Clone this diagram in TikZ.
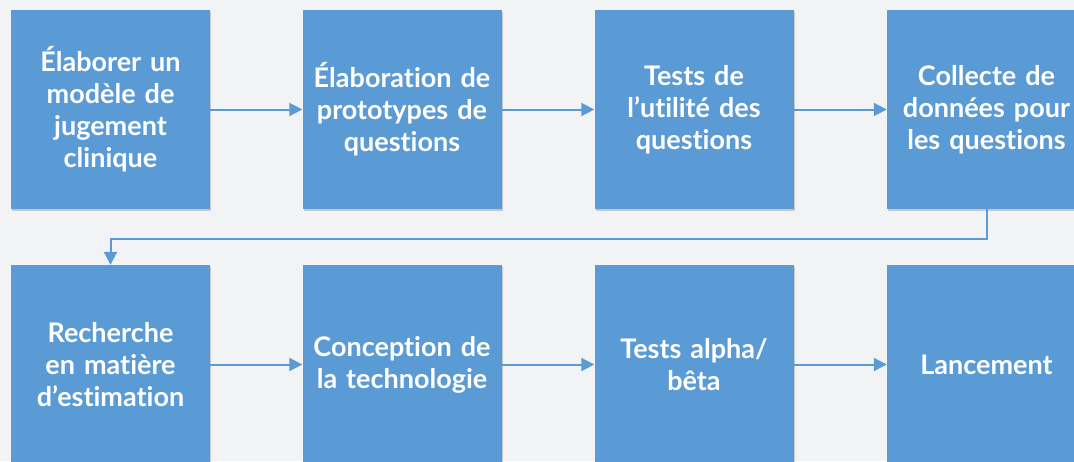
\documentclass[tikz,border=0pt]{standalone}
\usepackage{fontspec}
\setmainfont{Lato}[Ligatures=NoCommon]
\usetikzlibrary{arrows.meta,shadows}
\definecolor{boxblue}{HTML}{5B9BD5}
\definecolor{pagegray}{HTML}{F2F3F5}
\begin{document}
\begin{tikzpicture}[x=1pt,y=-1pt,
  stepbox/.style={fill=boxblue,minimum width=199pt,minimum height=199pt,
    text width=199pt,align=center,inner sep=0pt,text=white,
    font=\fontsize{27}{32}\selectfont\bfseries,
    drop shadow={shadow xshift=1pt,shadow yshift=-1.5pt,fill=black,opacity=.18}},
  link/.style={boxblue,line width=2pt,-{Triangle[length=13pt,width=13pt]}}]
\fill[pagegray] (0,0) rectangle (1074,461);
\useasboundingbox (0,0) rectangle (1074,461);
\clip (0,0) rectangle (1074,461);
% first row
\node[stepbox] (elab) at (110.5,109.5) {Élaborer un\\modèle de\\jugement\\clinique};
\node[stepbox] (proto) at (402,109.5) {Élaboration de\\prototypes de\\questions};
\node[stepbox] (utilite) at (694,109.5) {Tests de\\l’utilité des\\questions};
\node[stepbox] (collecte) at (986.5,109.5) {Collecte de\\données pour\\les questions};
% second row
\node[stepbox] (recherche) at (110.5,364.5) {Recherche\\en matière\\d’estimation};
\node[stepbox] (conception) at (402,364.5) {Conception de\\la technologie};
\node[stepbox] (alpha) at (694,364.5) {Tests alpha/\\bêta};
\node[stepbox] (lancement) at (986.5,364.5) {Lancement};
\draw[link] (elab) -- (proto);
\draw[link] (proto) -- (utilite);
\draw[link] (utilite) -- (collecte);
\draw[link] (collecte.south) -- ++(0,29.5) -| (recherche.north);
\draw[link] (recherche) -- (conception);
\draw[link] (conception) -- (alpha);
\draw[link] (alpha) -- (lancement);
\end{tikzpicture}
\end{document}
